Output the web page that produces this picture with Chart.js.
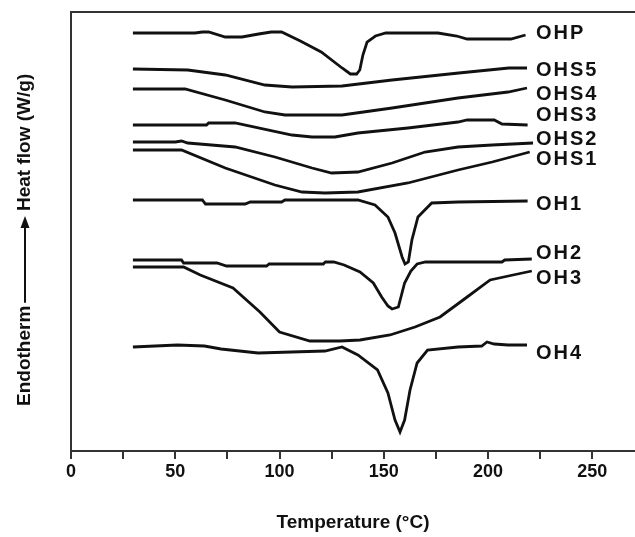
<!DOCTYPE html>
<html>
<head>
<meta charset="utf-8">
<script src="https://cdn.jsdelivr.net/npm/chart.js@4.4.1/dist/chart.umd.min.js"></script>
<style>
  html, body { margin: 0; padding: 0; background: #fff; }
  #wrap { width: 635px; height: 537px; }
</style>
</head>
<body>
<div id="wrap"><canvas id="dsc"></canvas></div>
<script>
// DSC traces: [temperature (°C), heat flow (arb. units, stacked offset)]
const seriesNames = ['OHP', 'OHS5', 'OHS4', 'OHS3', 'OHS2', 'OHS1', 'OH1', 'OH2', 'OH3', 'OH4'];

const ohp = [[29.7,418],[59.5,418],[63,419],[66,419],[74,414],[82,414],[90,417],[96,419],[101,419],
  [110,410],[120,399],[130,383],[134,377],[137,377],[138.5,381],[140,396],[142,409],[146,415],
  [151,418],[176,418],[185,415],[190,412],[211,412],[218,416]];
const ohs5 = [[29.7,382],[56,381],[74,376],[93,366],[106,364],[130,365],[154,371],[186,378],[210,383],[218.7,383]];
const ohs4 = [[29.7,362],[54.7,362],[74,351],[93,339],[102.6,336],[130,336],[154,343],[185.6,353],[209.6,359],[218.7,363]];
const ohs3 = [[29.7,326],[65,326],[66,328],[78.7,328],[106,316],[115.6,314],[126.6,314],[137.6,318],
  [161.6,323],[185.6,329],[190,331],[203,331],[206.7,327],[219,326]];
const ohs2 = [[29.7,309],[50,309],[53,310],[56,308],[78.7,304],[97.8,294],[115.6,283],[125,278],
  [137.6,279],[154,288],[169.8,299],[185.6,304],[202,306],[221.6,308]];
const ohs1 = [[29.7,301],[53,301],[74,283],[97.8,266],[110.8,259],[121.8,258],[137.6,259],
  [161.6,268],[185.6,281],[202,289],[220,299]];
const oh1 = [[29.7,251],[63,251],[64.5,247],[83.5,247],[86,249],[101,249],[102.6,251],[137.6,251],
  [145.8,246],[152,234],[155.4,218],[158.8,194],[160.2,187],[161.8,189],[163.5,211],[166.4,234],
  [173,248],[185.6,249],[219,250]];
const oh2 = [[29.7,191],[53,191],[54,188],[70,188],[74.6,185],[93.8,185],[95,187],[121,187],[122,189],
  [126,189],[131,186],[138.6,179],[145,168],[149,154],[152,145],[154,142],[157,144],[160,168],
  [163,180],[166,187],[170,189],[206.7,189],[208,191],[221,192]];
const oh3 = [[29.7,184],[54,184],[62,176],[77.7,163],[90.6,139],[100,119],[114.6,110],[129,110],
  [138.6,111],[153,116],[165,124],[177,134],[190,154],[201,171],[212,176],[221,180]];
const oh4 = [[29.7,104],[51,106],[64,105],[72,102],[89.7,98],[121.8,100],[130,104],[137.6,96],
  [147,81],[152,58],[155.4,31],[157.8,19],[160,31],[162.6,61],[166,88],[171,101],[185.6,104],
  [197,105],[199.5,109],[203,107],[209.6,106],[218.7,106]];

const seriesData = [ohp, ohs5, ohs4, ohs3, ohs2, ohs1, oh1, oh2, oh3, oh4];
const xLabelTicks = [0, 50, 100, 150, 200, 250];

const FONT = '"Liberation Sans", Arial, sans-serif';
const INK = '#111';
const AXIS = '#333';

// label nudges (px) so the curve names don't collide, as in the figure
const labelNudge = [-2, 2, 6, -10, -4, 7, 3, -6, 7, 8];

const curveLabels = {
  id: 'curveLabels',
  afterDatasetsDraw(chart) {
    const ctx = chart.ctx;
    const xs = chart.scales.x, ys = chart.scales.y;
    ctx.save();
    ctx.font = 'bold 20px ' + FONT;
    ctx.letterSpacing = '2px';
    ctx.fillStyle = INK;
    ctx.textBaseline = 'middle';
    ctx.textAlign = 'left';
    const lx = xs.getPixelForValue(223);
    chart.data.datasets.forEach((ds, i) => {
      const last = ds.data[ds.data.length - 1];
      ctx.fillText(ds.label, lx, ys.getPixelForValue(last.y) + labelNudge[i]);
    });
    ctx.restore();
  }
};

const yTitle = {
  id: 'yTitle',
  afterDraw(chart) {
    const ctx = chart.ctx;
    ctx.save();
    ctx.translate(25, 0);
    ctx.rotate(-Math.PI / 2);
    ctx.fillStyle = INK;
    ctx.strokeStyle = INK;
    ctx.font = 'bold 19px ' + FONT;
    ctx.textBaseline = 'middle';
    ctx.textAlign = 'left';
    let u = -406;
    ctx.fillText('Endotherm', u, 0);
    u += ctx.measureText('Endotherm').width + 3;
    const head = -216;
    ctx.lineWidth = 2;
    ctx.beginPath();
    ctx.moveTo(u, 0);
    ctx.lineTo(head - 10, 0);
    ctx.stroke();
    ctx.beginPath();
    ctx.moveTo(head, 0);
    ctx.lineTo(head - 12, -4.5);
    ctx.lineTo(head - 12, 4.5);
    ctx.closePath();
    ctx.fill();
    ctx.fillText('Heat flow (W/g)', head + 5, 0);
    ctx.restore();
  }
};

new Chart(document.getElementById('dsc'), {
  type: 'line',
  data: {
    datasets: seriesNames.map((name, i) => ({
      label: name,
      data: seriesData[i].map(p => ({ x: p[0], y: p[1] })),
      borderColor: INK,
      borderWidth: 2.8,
      pointRadius: 0,
      tension: 0,
      fill: false
    }))
  },
  options: {
    responsive: true,
    maintainAspectRatio: false,
    animation: false,
    parsing: false,
    layout: { padding: 0 },
    plugins: {
      legend: { display: false },
      tooltip: { enabled: false }
    },
    scales: {
      x: {
        type: 'linear',
        position: 'bottom',
        min: 0,
        max: 270.5,
        afterFit: s => { s.height = 86; },
        ticks: {
          stepSize: 25,
          includeBounds: false,
          autoSkip: false,
          maxRotation: 0,
          padding: 2,
          color: INK,
          font: { family: FONT, size: 18, weight: 'bold' },
          callback: v => xLabelTicks.includes(v) ? String(v) : ''
        },
        grid: { drawOnChartArea: false, drawTicks: true, tickLength: 8, color: AXIS, lineWidth: 2 },
        border: { display: true, color: AXIS, width: 2 },
        title: {
          display: true,
          text: 'Temperature (°C)',
          color: INK,
          font: { family: FONT, size: 19, weight: 'bold' },
          padding: { top: 0, bottom: 3 }
        }
      },
      xTop: {
        type: 'linear',
        position: 'top',
        min: 0,
        max: 270.5,
        afterFit: s => { s.height = 12; },
        ticks: { display: false },
        grid: { drawOnChartArea: false, drawTicks: false },
        border: { display: true, color: AXIS, width: 2 }
      },
      y: {
        type: 'linear',
        min: 0,
        max: 439,
        afterFit: s => { s.width = 71; },
        ticks: { display: false },
        grid: { display: false },
        border: { display: true, color: AXIS, width: 2 }
      }
    }
  },
  plugins: [curveLabels, yTitle]
});
</script>
</body>
</html>
